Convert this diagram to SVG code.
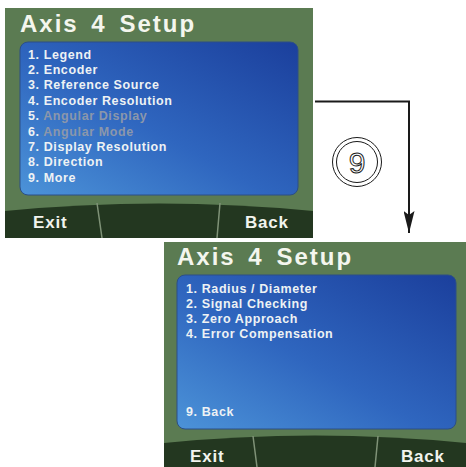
<svg xmlns="http://www.w3.org/2000/svg" width="466" height="467" viewBox="0 0 466 467">
<style>
.bezel{fill:#5b7b52}
.bar{fill:#233720}
.div{stroke:#7f9277;stroke-width:1.5;fill:none}
.title{font-family:"Liberation Sans",Arial,sans-serif;font-weight:bold;font-size:24px;fill:#f4f6ee;letter-spacing:2px;word-spacing:4px}
.item{font-family:"Liberation Sans",Arial,sans-serif;font-weight:bold;font-size:12.5px;fill:#eef2f4;letter-spacing:0.6px}
.dim{fill:#8b97ab}
.key{font-family:"Liberation Sans",Arial,sans-serif;font-weight:bold;font-size:17px;fill:#f2f4ee;letter-spacing:0.8px}
.panel{stroke:#2c4f86;stroke-width:1}
</style>
<defs>
<linearGradient id="blue" x1="0" y1="1" x2="1" y2="0">
<stop offset="0" stop-color="#4c93d8"/>
<stop offset="0.45" stop-color="#2f66bf"/>
<stop offset="1" stop-color="#1b3f9c"/>
</linearGradient>
<marker id="ah" viewBox="0 0 22 11" refX="22" refY="5.5" markerWidth="22" markerHeight="11" markerUnits="userSpaceOnUse" orient="auto">
<path d="M0,0 L22,5.5 L0,11 L4,5.5 Z" fill="#1a1a1a"/>
</marker>
</defs>

<g id="screen1">
<rect class="bezel" x="5" y="8" width="308" height="230"/>
<rect class="panel" x="20" y="42" width="278" height="153" rx="8" fill="url(#blue)"/>
<path class="bar" d="M5,211 Q159,196 313,211 L313,238 L5,238 Z"/>
<path class="div" d="M97,203 L102,238 M220,203 L217,238"/>
<text class="title" x="20" y="32">Axis 4 Setup</text>
<text class="item" x="28" y="58.5">1. Legend</text>
<text class="item" x="28" y="73.9">2. Encoder</text>
<text class="item" x="28" y="89.3">3. Reference Source</text>
<text class="item" x="28" y="104.7">4. Encoder Resolution</text>
<text class="item" x="28" y="120.1">5. <tspan class="dim">Angular Display</tspan></text>
<text class="item" x="28" y="135.5">6. <tspan class="dim">Angular Mode</tspan></text>
<text class="item" x="28" y="150.9">7. Display Resolution</text>
<text class="item" x="28" y="166.3">8. Direction</text>
<text class="item" x="28" y="181.7">9. More</text>
<text class="key" x="33" y="228">Exit</text>
<text class="key" x="245" y="228">Back</text>
</g>

<g id="screen2">
<rect class="bezel" x="164" y="242" width="302" height="225"/>
<rect class="panel" x="177" y="275" width="279" height="154" rx="8" fill="url(#blue)"/>
<path class="bar" d="M164,443 Q315,428 466,443 L466,467 L164,467 Z"/>
<path class="div" d="M253,436 L257,467 M378,436 L375,467"/>
<text class="title" x="177" y="265">Axis 4 Setup</text>
<text class="item" x="186" y="293">1. Radius / Diameter</text>
<text class="item" x="186" y="308">2. Signal Checking</text>
<text class="item" x="186" y="323">3. Zero Approach</text>
<text class="item" x="186" y="338">4. Error Compensation</text>
<text class="item" x="186" y="416">9. Back</text>
<text class="key" x="190" y="462">Exit</text>
<text class="key" x="401" y="462">Back</text>
</g>

<g id="key9">
<circle cx="357" cy="162" r="24.5" fill="#ffffff" stroke="#1a1a1a" stroke-width="1"/>
<circle cx="357" cy="162" r="20.5" fill="none" stroke="#1a1a1a" stroke-width="1"/>
<text x="357" y="173" text-anchor="middle" font-family="Liberation Sans, Arial, sans-serif" font-size="30" fill="none" stroke="#1a1a1a" stroke-width="1">9</text>
</g>

<g id="connectors">
<path d="M315,101.5 L409,101.5 L409,233" fill="none" stroke="#1a1a1a" stroke-width="2" marker-end="url(#ah)"/>
</g>
</svg>
